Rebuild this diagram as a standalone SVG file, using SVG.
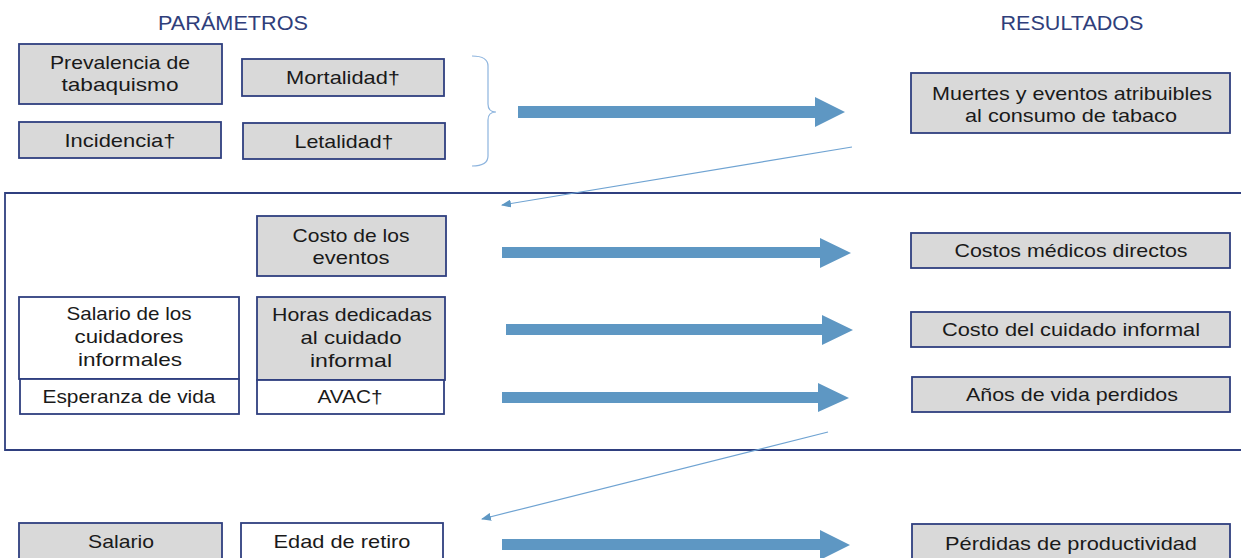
<svg xmlns="http://www.w3.org/2000/svg" width="1241" height="558" viewBox="0 0 1241 558">
<defs>
<style>
.g{fill:#D9D9D9;stroke:#2F3F7F;stroke-width:1.8}
.w{fill:#FFFFFF;stroke:#2F3F7F;stroke-width:1.8}
.pt{font-family:"Liberation Sans",Arial,sans-serif;font-size:19px;fill:#1a1a1a;text-anchor:middle}
.rt{font-family:"Liberation Sans",Arial,sans-serif;font-size:18.5px;fill:#1a1a1a;text-anchor:middle}
.hd{font-family:"Liberation Sans",Arial,sans-serif;font-size:19.5px;fill:#2F3E7B;text-anchor:middle}
.big{fill:#5E97C3}
.thin{stroke:#6FA3D2;stroke-width:1.2;fill:none}
</style>
<marker id="ah" markerWidth="10" markerHeight="8" refX="9" refY="4" orient="auto" markerUnits="userSpaceOnUse">
<path d="M0,0 L10,4 L0,8 Z" fill="#5E97C3"/>
</marker>
</defs>
<rect width="1241" height="558" fill="#FFFFFF"/>

<text class="hd" x="233" y="30" textLength="150" lengthAdjust="spacingAndGlyphs">PARÁMETROS</text>
<text class="hd" x="1072" y="30" textLength="143" lengthAdjust="spacingAndGlyphs">RESULTADOS</text>

<path d="M1241,193 H5 V450 H1241" fill="none" stroke="#2F3F7F" stroke-width="1.8"/>
<path d="M472,56 Q488,56 488,66 L488,104 Q488,112 496,112 Q488,112 488,120 L488,156 Q488,166 472,166" fill="none" stroke="#8DB4DE" stroke-width="1.2"/>

<g id="prevalencia"><rect class="g" x="19" y="44" width="203" height="60"/><text class="pt" x="120" y="69" textLength="140" lengthAdjust="spacingAndGlyphs">Prevalencia de</text><text class="pt" x="120" y="91" textLength="117" lengthAdjust="spacingAndGlyphs">tabaquismo</text></g>
<g id="mortalidad"><rect class="g" x="242" y="59" width="202" height="37"/><text class="pt" x="343" y="84" textLength="114" lengthAdjust="spacingAndGlyphs">Mortalidad†</text></g>
<g id="incidencia"><rect class="g" x="19" y="122" width="202" height="36"/><text class="pt" x="120" y="147" textLength="111" lengthAdjust="spacingAndGlyphs">Incidencia†</text></g>
<g id="letalidad"><rect class="g" x="243" y="123" width="202" height="36"/><text class="pt" x="344" y="148" textLength="99" lengthAdjust="spacingAndGlyphs">Letalidad†</text></g>
<g id="muertes"><rect class="g" x="911" y="73" width="319" height="60"/><text class="rt" x="1072" y="100" textLength="280" lengthAdjust="spacingAndGlyphs">Muertes y eventos atribuibles</text><text class="rt" x="1071" y="122" textLength="212" lengthAdjust="spacingAndGlyphs">al consumo de tabaco</text></g>

<g id="costo-eventos"><rect class="g" x="257" y="216" width="189" height="60"/><text class="pt" x="351" y="242" textLength="117" lengthAdjust="spacingAndGlyphs">Costo de los</text><text class="pt" x="351" y="264" textLength="77" lengthAdjust="spacingAndGlyphs">eventos</text></g>
<g id="salario-cuidadores"><rect class="w" x="19" y="297" width="220" height="82"/><text class="pt" x="129" y="320" textLength="125" lengthAdjust="spacingAndGlyphs">Salario de los</text><text class="pt" x="129" y="343" textLength="109" lengthAdjust="spacingAndGlyphs">cuidadores</text><text class="pt" x="130" y="366" textLength="104" lengthAdjust="spacingAndGlyphs">informales</text></g>
<g id="esperanza"><rect class="w" x="20" y="379" width="219" height="35"/><text class="pt" x="129" y="403" textLength="173" lengthAdjust="spacingAndGlyphs">Esperanza de vida</text></g>
<g id="horas"><rect class="g" x="257" y="297" width="188" height="83"/><text class="pt" x="352" y="321" textLength="160" lengthAdjust="spacingAndGlyphs">Horas dedicadas</text><text class="pt" x="351" y="344" textLength="101" lengthAdjust="spacingAndGlyphs">al cuidado</text><text class="pt" x="351" y="367" textLength="82" lengthAdjust="spacingAndGlyphs">informal</text></g>
<g id="avac"><rect class="w" x="257" y="380" width="187" height="34"/><text class="pt" x="350" y="403" textLength="65" lengthAdjust="spacingAndGlyphs">AVAC†</text></g>
<g id="costos-medicos"><rect class="g" x="911" y="233" width="319" height="35"/><text class="rt" x="1071" y="257" textLength="233" lengthAdjust="spacingAndGlyphs">Costos médicos directos</text></g>
<g id="costo-cuidado"><rect class="g" x="911" y="312" width="319" height="35"/><text class="rt" x="1071" y="336" textLength="258" lengthAdjust="spacingAndGlyphs">Costo del cuidado informal</text></g>
<g id="anos-vida"><rect class="g" x="912" y="377" width="318" height="35"/><text class="rt" x="1072" y="401" textLength="212" lengthAdjust="spacingAndGlyphs">Años de vida perdidos</text></g>

<g id="salario"><rect class="g" x="19" y="523" width="203" height="40"/><text class="pt" x="121" y="548" textLength="66" lengthAdjust="spacingAndGlyphs">Salario</text></g>
<g id="edad-retiro"><rect class="w" x="241" y="523" width="202" height="40"/><text class="pt" x="342" y="548" textLength="137" lengthAdjust="spacingAndGlyphs">Edad de retiro</text></g>
<g id="perdidas"><rect class="g" x="912" y="524" width="318" height="40"/><text class="rt" x="1071" y="550" textLength="252" lengthAdjust="spacingAndGlyphs">Pérdidas de productividad</text></g>

<g id="connectors">
<polygon class="big" points="518,106 815,106 815,97 845,112 815,127 815,118 518,118"/>
<polygon class="big" points="502,247 820,247 820,238 851,253 820,268 820,258 502,258"/>
<polygon class="big" points="506,324 822,324 822,315 853,330 822,345 822,335 506,335"/>
<polygon class="big" points="502,392 818,392 818,383 849,398 818,412 818,403 502,403"/>
<polygon class="big" points="502,539 820,539 820,530 850,545 820,560 820,550 502,550"/>
<line class="thin" x1="852" y1="147" x2="502" y2="205" marker-end="url(#ah)"/>
<line class="thin" x1="828" y1="432" x2="482" y2="519" marker-end="url(#ah)"/>
</g>
</svg>
